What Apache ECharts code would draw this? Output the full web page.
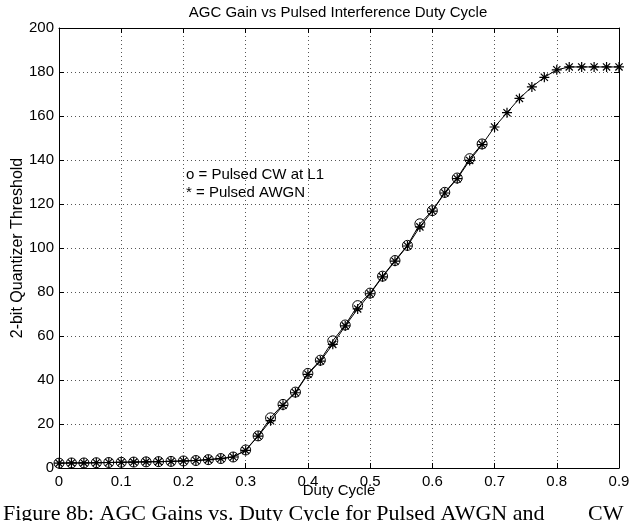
<!DOCTYPE html>
<html>
<head>
<meta charset="utf-8">
<script src="https://cdn.jsdelivr.net/npm/echarts@6/dist/echarts.min.js"></script>
<style>
  html, body { margin: 0; padding: 0; background: #fff; }
  #chart { width: 643px; height: 521px; }
</style>
</head>
<body>
<div id="chart"></div>
<script>
// Duty cycle sample points
const dutyCycle = [0, 0.02, 0.04, 0.06, 0.08, 0.10, 0.12, 0.14, 0.16, 0.18,
  0.20, 0.22, 0.24, 0.26, 0.28, 0.30, 0.32, 0.34, 0.36, 0.38,
  0.40, 0.42, 0.44, 0.46, 0.48, 0.50, 0.52, 0.54, 0.56, 0.58,
  0.60, 0.62, 0.64, 0.66, 0.68, 0.70, 0.72, 0.74, 0.76, 0.78,
  0.80, 0.82, 0.84, 0.86, 0.88, 0.90];

// Pulsed CW at L1 (measured up to 0.68 duty cycle)
const pulsedCW = [2.2, 2.3, 2.3, 2.4, 2.5, 2.6, 2.7, 2.8, 2.9, 3.0,
  3.2, 3.4, 3.8, 4.3, 5.0, 8.2, 14.6, 22.8, 28.9, 34.5,
  43.0, 49.0, 57.8, 65.0, 73.8, 79.5, 87.2, 94.3, 101.2, 111.0,
  117.0, 125.3, 131.8, 140.6, 147.3];

// Pulsed AWGN
const pulsedAWGN = [2.2, 2.3, 2.3, 2.4, 2.5, 2.6, 2.7, 2.8, 2.9, 3.0,
  3.2, 3.4, 3.8, 4.3, 5.0, 8.0, 14.5, 21.5, 28.5, 34.2,
  42.6, 48.6, 56.2, 64.6, 72.3, 79.2, 86.9, 94.0, 100.9, 109.6,
  116.8, 125.0, 131.5, 139.8, 147.0, 155.0, 161.5, 168.0, 173.2, 177.6,
  181.0, 182.3, 182.3, 182.3, 182.3, 182.3];

const xTicks = { min: 0, max: 0.9, interval: 0.1 };
const yTicks = { min: 0, max: 200, interval: 20 };

const FONT = 'Liberation Sans, Arial, Helvetica, sans-serif';
const SERIF = 'Liberation Serif, Times New Roman, serif';
const asterisk = 'path://M0,-5L0,5M-5,0L5,0M-3.6,-3.6L3.6,3.6M-3.6,3.6L3.6,-3.6';

const pairs = (xs, ys) => ys.map((v, i) => [xs[i], v]);

const gridStyle = { show: true, lineStyle: { color: '#555', width: 1, type: [1, 3] } };
const frameLine = { show: true, onZero: false, lineStyle: { color: '#000', width: 1 } };
const tickIn = { show: true, inside: true, length: 5, lineStyle: { color: '#000', width: 1 } };

const chart = echarts.init(document.getElementById('chart'), null, { renderer: 'canvas' });

chart.setOption({
  animation: false,
  backgroundColor: '#fff',
  grid: { left: 59, right: 24, top: 28, bottom: 53, containLabel: false },
  xAxis: [
    {
      type: 'value', position: 'bottom',
      min: xTicks.min, max: xTicks.max, interval: xTicks.interval,
      name: 'Duty Cycle', nameLocation: 'middle', nameGap: 15, nameMoveOverlap: false,
      nameTextStyle: { color: '#000', fontFamily: FONT, fontSize: 15 },
      axisLine: frameLine, axisTick: tickIn,
      axisLabel: {
        color: '#000', fontFamily: FONT, fontSize: 15, margin: 6,
        formatter: v => (Math.round(v * 10) / 10).toString()
      },
      splitLine: gridStyle
    },
    {
      type: 'value', position: 'top',
      min: xTicks.min, max: xTicks.max, interval: xTicks.interval,
      axisLine: frameLine, axisTick: tickIn,
      axisLabel: { show: false }, splitLine: { show: false }
    }
  ],
  yAxis: [
    {
      type: 'value', position: 'left',
      min: yTicks.min, max: yTicks.max, interval: yTicks.interval,
      name: '2-bit Quantizer Threshold', nameLocation: 'middle', nameGap: 33, nameMoveOverlap: false,
      nameTextStyle: { color: '#000', fontFamily: FONT, fontSize: 16 },
      axisLine: frameLine, axisTick: tickIn,
      axisLabel: { color: '#000', fontFamily: FONT, fontSize: 15, margin: 5 },
      splitLine: gridStyle
    },
    {
      type: 'value', position: 'right',
      min: yTicks.min, max: yTicks.max, interval: yTicks.interval,
      axisLine: frameLine, axisTick: tickIn,
      axisLabel: { show: false }, splitLine: { show: false }
    }
  ],
  series: [
    {
      name: 'Pulsed CW at L1', type: 'line',
      data: pairs(dutyCycle, pulsedCW),
      symbol: 'circle', symbolSize: 10,
      lineStyle: { color: '#000', width: 1 },
      itemStyle: { color: 'rgba(0,0,0,0)', borderColor: '#000', borderWidth: 1 },
      emphasis: { disabled: true }, silent: true
    },
    {
      name: 'Pulsed AWGN', type: 'line',
      data: pairs(dutyCycle, pulsedAWGN),
      symbol: asterisk, symbolSize: 10,
      lineStyle: { color: '#000', width: 1 },
      itemStyle: { color: 'rgba(0,0,0,0)', borderColor: '#000', borderWidth: 1.2 },
      emphasis: { disabled: true }, silent: true
    }
  ],
  graphic: [
    {
      type: 'text', x: 338, y: 13,
      style: { text: 'AGC Gain vs Pulsed Interference Duty Cycle', fill: '#000', font: '15px ' + FONT,
               textAlign: 'center', textVerticalAlign: 'middle' }
    },
    {
      type: 'text', x: 186, y: 175,
      style: { text: 'o = Pulsed CW at L1', fill: '#000', font: '15px ' + FONT, textVerticalAlign: 'middle' }
    },
    {
      type: 'text', x: 186, y: 193,
      style: { text: '* = Pulsed AWGN', fill: '#000', font: '15px ' + FONT, textVerticalAlign: 'middle' }
    },
    {
      type: 'text', x: 3, y: 514,
      style: { text: 'Figure 8b: AGC Gains vs. Duty Cycle for Pulsed AWGN and', fill: '#000',
               font: '22px ' + SERIF, textVerticalAlign: 'middle' }
    },
    {
      type: 'text', x: 588, y: 514,
      style: { text: 'CW', fill: '#000', font: '22px ' + SERIF, textVerticalAlign: 'middle' }
    }
  ]
});
</script>
</body>
</html>
